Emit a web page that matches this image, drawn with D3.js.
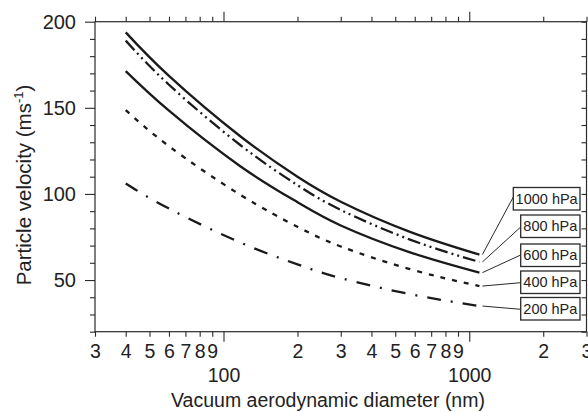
<!DOCTYPE html>
<html><head><meta charset="utf-8">
<script src="https://cdn.jsdelivr.net/npm/d3@7"></script>
<style>
body{margin:0;background:#fff}
svg{display:block}
text{font-family:"Liberation Sans",Arial,Helvetica,sans-serif;fill:#222}
</style>
</head><body><svg id="c" width="588" height="412"></svg>
<script>
// ---- data ----
const diameters = [40, 60, 117, 200, 300, 574, 1100];
const v1000 = [193.8, 168.5, 133.5, 110.0, 95.5, 78.0, 64.8];
const v800  = [189.0, 163.4, 128.4, 105.1, 90.7, 73.5, 60.5];
const v600  = [171.3, 148.3, 116.1, 95.2, 81.7, 66.1, 54.3];
const v400  = [148.7, 127.7, 99.5, 80.9, 69.5, 56.3, 46.5];
const v200  = [106.0, 91.5, 71.8, 59.1, 51.1, 41.8, 34.9];
const seriesNames = ["1000 hPa", "800 hPa", "600 hPa", "400 hPa", "200 hPa"];
const seriesValues = [v1000, v800, v600, v400, v200];
const xMinorTicks = [30,40,50,60,70,80,90,200,300,400,500,600,700,800,900,2000,3000];
const xMajorTicks = [100, 1000];
const yMajorTicks = [50, 100, 150, 200];
const yMinorTicks = [20,30,40,60,70,80,90,110,120,130,140,160,170,180,190];

// ---- layout ----
const L = 95, R = 586.5, T = 21.7, B = 331.7;
const ink = "#2a2a2a";
const svg = d3.select("#c");
const x = d3.scaleLog().domain([30, 3000]).range([L, R]);
const y = d3.scaleLinear().domain([20, 200]).range([B, T]);

function style(fs){
  return g => {
    g.select(".domain").remove();
    g.selectAll("line").attr("stroke", ink).attr("stroke-width", 1.1);
    g.selectAll("text").attr("font-size", fs).attr("fill", "#222")
      .attr("font-family", '"Liberation Sans",Arial,Helvetica,sans-serif');
  };
}

// left axis
svg.append("g").attr("transform", `translate(${L},0)`)
  .call(d3.axisLeft(y).tickValues(yMinorTicks).tickSize(5).tickFormat(""))
  .call(style(20));
svg.append("g").attr("transform", `translate(${L},0)`)
  .call(d3.axisLeft(y).tickValues(yMajorTicks).tickSize(10).tickPadding(9).tickFormat(d3.format("d")))
  .call(style(20));
// right axis (ticks inward)
svg.append("g").attr("transform", `translate(${R},0)`)
  .call(d3.axisRight(y).tickValues(yMinorTicks.concat(yMajorTicks)).tickSize(-5).tickFormat(""))
  .call(style(20));
// top axis
svg.append("g").attr("transform", `translate(0,${T})`)
  .call(d3.axisTop(x).tickValues(xMinorTicks).tickSize(5).tickFormat(""))
  .call(style(20));
svg.append("g").attr("transform", `translate(0,${T})`)
  .call(d3.axisTop(x).tickValues(xMajorTicks).tickSize(10).tickFormat(""))
  .call(style(20));
// bottom axis
svg.append("g").attr("transform", `translate(0,${B})`)
  .call(d3.axisBottom(x).tickValues(xMinorTicks).tickSize(5).tickPadding(7.5)
    .tickFormat(d => String(d).charAt(0)))
  .call(style(19.5));
svg.append("g").attr("transform", `translate(0,${B})`)
  .call(d3.axisBottom(x).tickValues(xMajorTicks).tickSize(10).tickPadding(26.5)
    .tickFormat(d3.format("d")))
  .call(style(19.5));

// frame
svg.append("rect").attr("x", L).attr("y", T).attr("width", R - L).attr("height", B - T)
  .attr("fill", "none").attr("stroke", ink).attr("stroke-width", 1.2);

// curves
const dashes = [null, "13,4,2,4,2,4", null, "5,7", "14,10,2,10"];
const line = d3.line().x(d => x(d[0])).y(d => y(d[1])).curve(d3.curveNatural);
seriesValues.forEach((vals, i) => {
  svg.append("path")
    .datum(diameters.map((d, j) => [d, vals[j]]))
    .attr("d", line)
    .attr("fill", "none")
    .attr("stroke", "#1a1a1a")
    .attr("stroke-width", 2.3)
    .attr("stroke-dasharray", dashes[i]);
});

// labels with boxes and leader lines
const boxTops = [187.5, 215, 244, 271, 297.5];
const boxLefts = [513.3, 520.7, 520.7, 520.7, 520.7];
const leaderEnds = [197, 227, 255, 282.7, 309.3];
const boxRight = 580, boxH = 22.5;
const lastX = diameters[diameters.length - 1];
seriesNames.forEach((name, i) => {
  const vals = seriesValues[i];
  const x0 = x(lastX) + 3, y0 = y(vals[vals.length - 1]);
  svg.append("line").attr("x1", x0).attr("y1", y0)
    .attr("x2", boxLefts[i]).attr("y2", leaderEnds[i])
    .attr("stroke", ink).attr("stroke-width", 1);
  svg.append("rect").attr("x", boxLefts[i]).attr("y", boxTops[i])
    .attr("width", boxRight - boxLefts[i]).attr("height", boxH)
    .attr("fill", "#fff").attr("stroke", ink).attr("stroke-width", 1.3);
  svg.append("text").attr("x", (boxLefts[i] + boxRight) / 2).attr("y", boxTops[i] + boxH / 2 + 5.2)
    .attr("text-anchor", "middle").attr("font-size", 14.5).text(name);
});

// axis titles
svg.append("text").attr("x", 328).attr("y", 407).attr("text-anchor", "middle")
  .attr("font-size", 19.5).text("Vacuum aerodynamic diameter (nm)");
const yt = svg.append("text").attr("transform", "translate(31,185) rotate(-90)")
  .attr("text-anchor", "middle").attr("font-size", 20.5);
yt.append("tspan").text("Particle velocity (ms");
yt.append("tspan").attr("font-size", 13).attr("dy", -8).text("-1");
yt.append("tspan").attr("dy", 8).text(")");
</script>
</body></html>
